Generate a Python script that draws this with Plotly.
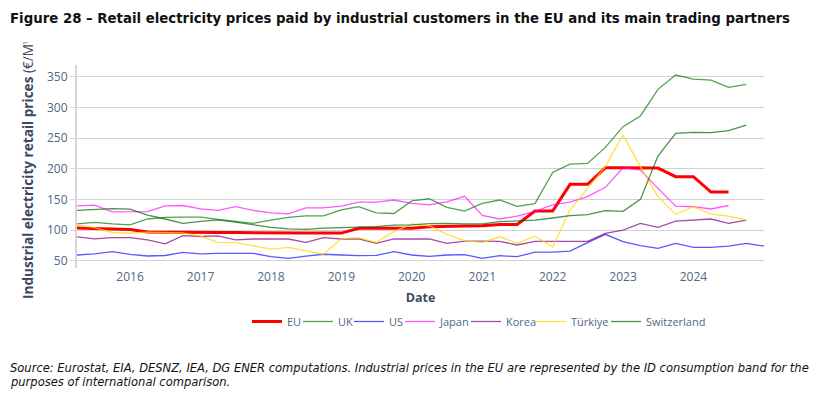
import plotly.graph_objects as go

dates = [
    "2015-04-01", "2015-07-01", "2015-10-01",
    "2016-01-01", "2016-04-01", "2016-07-01", "2016-10-01",
    "2017-01-01", "2017-04-01", "2017-07-01", "2017-10-01",
    "2018-01-01", "2018-04-01", "2018-07-01", "2018-10-01",
    "2019-01-01", "2019-04-01", "2019-07-01", "2019-10-01",
    "2020-01-01", "2020-04-01", "2020-07-01", "2020-10-01",
    "2021-01-01", "2021-04-01", "2021-07-01", "2021-10-01",
    "2022-01-01", "2022-04-01", "2022-07-01", "2022-10-01",
    "2023-01-01", "2023-04-01", "2023-07-01", "2023-10-01",
    "2024-01-01", "2024-04-01", "2024-07-01", "2024-10-01",
    "2025-01-01",
]

year_tick_dates = ["2016-01-01", "2017-01-01", "2018-01-01", "2019-01-01", "2020-01-01",
                   "2021-01-01", "2022-01-01", "2023-01-01", "2024-01-01"]
year_tick_labels = ["2016", "2017", "2018", "2019", "2020", "2021", "2022", "2023", "2024"]
y_ticks = [50, 100, 150, 200, 250, 300, 350]

eu = [103.5, 102.5, 101.5, 101, 97, 96.5, 96, 96, 96, 96, 95.5, 95.5, 95, 95, 95, 95,
      103, 103, 104, 103, 105.5, 106.5, 106.5, 107, 109, 109, 131, 131, 174.5, 174.5,
      201.5, 201.5, 201, 201, 187, 187, 162, 162]
uk = [110, 112.5, 110, 108.5, 118, 120.5, 121, 121, 117.5, 114, 111, 116, 120.5, 123, 123,
      133, 138, 128, 127, 147.5, 151, 137, 131, 143.5, 149, 138.5, 143, 194, 207.5, 208.7,
      234.8, 268.5, 286, 329.4, 352.7, 346.2, 344.6, 332.6, 337.5]
us = [59.3, 61, 64.7, 60.3, 57.7, 58.5, 63.6, 61, 62, 62, 62, 56.5, 53.8, 57.6, 60.5, 59.3,
      58.2, 58.8, 64.7, 59.3, 57, 59.3, 60, 53.8, 58.2, 56.5, 64, 64, 65.5, 79.4, 93, 81,
      74.5, 70, 78.3, 71.8, 71.8, 73.9, 78.3, 73.9]
japan = [139.5, 140.5, 129.5, 129.5, 130, 139.5, 140, 134.5, 132, 138, 132, 128, 126.5, 136,
         136, 139, 145.5, 145.5, 149, 143.5, 141, 146, 155, 124, 118, 122.8, 130.5, 141,
         145.5, 154.4, 169.6, 201.6, 197.8, 168, 139, 138, 134.3, 140]
korea = [89, 85.5, 87.5, 87.5, 84, 77.5, 91, 89.5, 90.5, 84, 85.4, 84.8, 85.4, 80, 87.5, 85.4,
         85.4, 78.3, 85.4, 85.4, 85.4, 78.3, 82, 82, 81.5, 75.6, 81.5, 81.5, 81.5, 81.5, 94.6,
         100, 110.9, 104.4, 114.7, 116.3, 118, 110.9, 116.3]
turkiye = [108, 104, 96, 95, 96.5, 95.5, 95.5, 90, 80, 79.4, 74, 69, 71.8, 66.4, 60.5, 86, 87.5,
           80, 97.3, 109.8, 107, 93, 82.6, 79.4, 89, 78.3, 90, 72.5, 132.6, 168, 203.3, 254.9,
           203.3, 154.4, 125.6, 138, 126, 122.8, 116.3]
switzerland = [132, 134, 135, 134, 124.5, 118, 111, 114, 116.5, 113, 109, 104.5, 102, 101, 103,
               104, 104, 105.5, 108, 108.5, 110.5, 111, 110, 110, 113.6, 115.2, 116.3, 119.6,
               123.4, 125, 131.5, 130.5, 150, 220.7, 257.6, 259.3, 258.7, 262, 271]

# name, values, colour, line width, opacity, legend entry width
series = [
    ("EU", eu, "#ff0000", 3, 1.0, 6),
    ("UK", uk, "green", 1.3, 0.7, 6),
    ("US", us, "blue", 1.3, 0.65, 6),
    ("Japan", japan, "magenta", 1.3, 0.65, 21),
    ("Korea", korea, "purple", 1.3, 0.7, 20),
    ("Türkiye", turkiye, "gold", 1.3, 0.75, 30),
    ("Switzerland", switzerland, "darkgreen", 1.3, 0.7, 60),
]

fig = go.Figure()
for name, vals, color, width, op, lw in series:
    fig.add_trace(go.Scatter(
        x=dates[:len(vals)], y=vals, mode="lines", name=name,
        line=dict(color=color, width=width), opacity=op, legendwidth=lw,
    ))

tick_col = "#506784"
title_col = "#3b4a5e"

# page has an 8px body margin; plot area sits at page x 77..764, y 65..268
PL, PR, PT, PB = 77, 764, 65, 268
PW, PH = PR - PL, PB - PT


def px_x(x):
    return (x - PL) / PW


def px_y(y):
    return (PB - y) / PH


note_font = dict(family="Liberation Sans Narrow, DejaVu Sans Condensed, sans-serif",
                 size=12.8, color="#111111", style="italic")

fig.update_layout(
    width=818, height=382,
    margin=dict(l=PL - 8, r=818 - (PR - 8), t=PT - 8, b=382 - (PB - 8)),
    paper_bgcolor="white", plot_bgcolor="white",
    font=dict(family="Open Sans, DejaVu Sans, sans-serif", color=tick_col, size=12),
    showlegend=True,
    legend=dict(orientation="h", x=px_x(247), xanchor="left", y=px_y(307), yanchor="top",
                font=dict(size=11, color=tick_col), itemwidth=30),
    xaxis=dict(
        type="date", range=["2015-04-01", "2025-01-01"], showgrid=False,
        tickvals=year_tick_dates, ticktext=year_tick_labels, ticks="",
        showline=False, zeroline=False, tickfont=dict(size=12, color=tick_col),
        title=dict(text="<b>Date</b>", font=dict(size=12.5, color=title_col), standoff=9),
    ),
    yaxis=dict(
        range=[38.1, 369.1], tickvals=y_ticks,
        showgrid=True, gridcolor="#d2d2d2", gridwidth=1.2,
        showline=True, linecolor="#d6d6d6", linewidth=2,
        ticks="outside", ticklen=5, tickcolor="#d6d6d6", zeroline=False,
        tickfont=dict(size=12, color=tick_col),
    ),
    annotations=[
        dict(text="<b>Industrial electricity retail prices</b> (€/MWh)", textangle=-90,
             xref="paper", yref="paper", x=px_x(27), y=px_y(301),
             xanchor="center", yanchor="bottom", showarrow=False,
             font=dict(size=13.6, color=title_col)),
        dict(text=" ", xref="paper", yref="paper", x=px_x(417),
             y=px_y(25), xanchor="center", yanchor="middle",
             width=830, height=34, bgcolor="white", borderpad=0, showarrow=False),
        dict(text="<b>Figure 28 – Retail electricity prices paid by industrial customers in the EU and its main trading partners</b>",
             xref="paper", yref="paper", x=px_x(8), y=px_y(18),
             xanchor="left", yanchor="middle", showarrow=False,
             font=dict(family="Liberation Sans Narrow, DejaVu Sans Condensed, sans-serif", size=14.8, color="#111111")),
        dict(text="Source: Eurostat, EIA, DESNZ, IEA, DG ENER computations. Industrial prices in the EU are represented by the ID consumption band for the",
             xref="paper", yref="paper", x=px_x(8), y=px_y(367),
             xanchor="left", yanchor="middle", align="left", showarrow=False, font=note_font),
        dict(text="purposes of international comparison.",
             xref="paper", yref="paper", x=px_x(8), y=px_y(381.5),
             xanchor="left", yanchor="middle", align="left", showarrow=False, font=note_font),
    ],
)

fig.write_html("out.html")
